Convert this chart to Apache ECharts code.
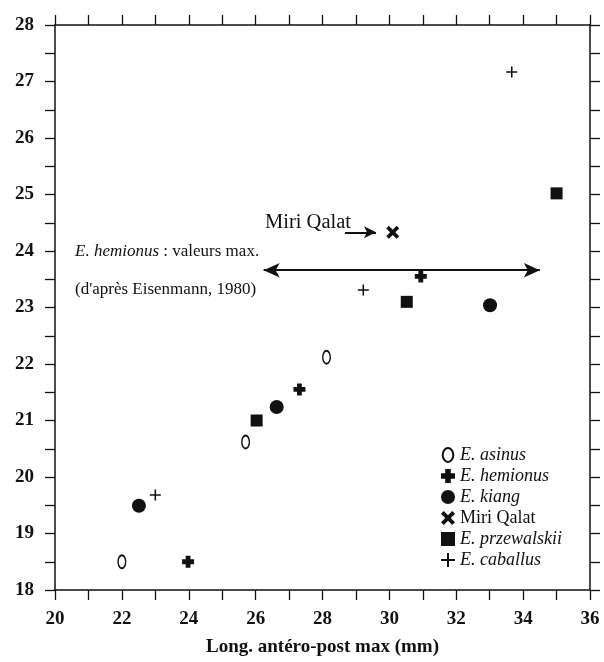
<!DOCTYPE html>
<html>
<head>
<meta charset="utf-8">
<script src="https://cdn.jsdelivr.net/npm/echarts@6/dist/echarts.min.js"></script>
<style>
html,body{margin:0;padding:0;background:#fff}
#chart{width:604px;height:662px}
</style>
</head>
<body>
<div id="chart"></div>
<script>
// valeurs : [long. antéro-post max, hauteur]
var asinus = [[22.0, 18.5], [25.7, 20.62], [28.12, 22.12]];
var hemionus = [[23.98, 18.5], [27.31, 21.55], [30.94, 23.55]];
var kiang = [[22.51, 19.49], [26.63, 21.24], [33.01, 23.04]];
var miriQalat = [[30.1, 24.33]];
var przewalskii = [[26.03, 21.0], [30.52, 23.1], [35.0, 25.02]];
var caballus = [[23.0, 19.68], [29.22, 23.31], [33.66, 27.17]];

// flèches d'annotation
var hemionusMax = [[26.24, 23.66], [34.5, 23.66]];
var miriArrow = [[28.67, 24.33], [29.6, 24.33]];

var xTicks = {min: 20, max: 36, step: 1};
var yTicks = {min: 18, max: 28, step: 0.5};

var serif = 'Liberation Serif';
var ink = '#111';
var chart = echarts.init(document.getElementById('chart'));

var axisLine = {lineStyle: {color: ink, width: 1.5}};
var axisTick = {length: 10, lineStyle: {color: ink, width: 1.3}};

function xAxisCfg(pos, labels) {
    return {
        type: 'value',
        position: pos,
        min: xTicks.min,
        max: xTicks.max,
        interval: xTicks.step,
        splitLine: {show: false},
        axisLine: axisLine,
        axisTick: axisTick,
        axisLabel: {
            show: labels,
            margin: 20,
            fontFamily: serif,
            fontWeight: 'bold',
            fontSize: 19,
            color: ink,
            formatter: function (v) { return v % 2 === 0 ? v : ''; }
        }
    };
}
function yAxisCfg(pos, labels) {
    return {
        type: 'value',
        position: pos,
        min: yTicks.min,
        max: yTicks.max,
        interval: yTicks.step,
        splitLine: {show: false},
        axisLine: axisLine,
        axisTick: axisTick,
        axisLabel: {
            show: labels,
            margin: 21,
            fontFamily: serif,
            fontWeight: 'bold',
            fontSize: 19,
            color: ink,
            formatter: function (v) { return Number.isInteger(v) ? v : ''; }
        }
    };
}

var xBottom = xAxisCfg('bottom', true);
xBottom.name = 'Long. antéro-post max (mm)';
xBottom.nameLocation = 'middle';
xBottom.nameGap = 48;
xBottom.nameTextStyle = {fontFamily: serif, fontWeight: 'bold', fontSize: 19, color: ink};

function dots(name, symbol, size, data, style) {
    return {
        name: name,
        type: 'scatter',
        symbol: symbol,
        symbolSize: size,
        symbolKeepAspect: true,
        itemStyle: style || {color: ink, opacity: 1},
        data: data
    };
}

var option = {
    backgroundColor: '#fff',
    animation: false,
    grid: {left: 55, right: 14, top: 25, bottom: 70},
    xAxis: [xBottom, xAxisCfg('top', false)],
    yAxis: [yAxisCfg('left', true), yAxisCfg('right', false)],
    legend: {
        orient: 'vertical',
        left: 436,
        top: 441,
        itemWidth: 14,
        itemHeight: 14,
        itemGap: 3,
        textStyle: {
            fontFamily: serif,
            fontSize: 18,
            color: ink,
            rich: {
                i: {fontFamily: serif, fontSize: 18, fontStyle: 'italic', color: ink},
                n: {fontFamily: serif, fontSize: 18, color: ink}
            }
        },
        formatter: function (name) {
            return name === 'Miri Qalat' ? '{n|' + name + '}' : '{i|' + name + '}';
        },
        data: ['E. asinus', 'E. hemionus', 'E. kiang', 'Miri Qalat', 'E. przewalskii', 'E. caballus']
    },
    series: [
        dots('E. asinus', 'path://M5,0A5,6.6,0,1,1,5,13.2A5,6.6,0,1,1,5,0Z', [10, 13], asinus,
            {color: '#fff', borderColor: ink, borderWidth: 1.6, opacity: 1}),
        dots('E. hemionus', 'path://M3,0H7V3H10V7H7V10H3V7H0V3H3Z', 12, hemionus),
        dots('E. kiang', 'circle', 14, kiang),
        dots('Miri Qalat', 'path://M0,2L2,0L5,3L8,0L10,2L7,5L10,8L8,10L5,7L2,10L0,8L3,5Z', 13, miriQalat),
        dots('E. przewalskii', 'rect', 12, przewalskii),
        dots('E. caballus', 'path://M4.3,0H5.7V4.3H10V5.7H5.7V10H4.3V5.7H0V4.3H4.3Z', 11, caballus),
        {
            name: 'annotations',
            type: 'line',
            data: [],
            silent: true,
            markLine: {
                silent: true,
                animation: false,
                label: {show: false},
                lineStyle: {color: ink, width: 2, type: 'solid', opacity: 1},
                symbol: ['arrow', 'arrow'],
                symbolSize: [11, 16],
                data: [
                    [{coord: hemionusMax[0]}, {coord: hemionusMax[1]}],
                    [{coord: miriArrow[0], symbol: 'none'}, {coord: miriArrow[1], symbol: 'arrow', symbolSize: [9, 12]}]
                ]
            }
        }
    ],
    graphic: [
        {
            type: 'text', left: 265, top: 212,
            style: {text: 'Miri Qalat', font: '20.5px "Liberation Serif"', fill: ink}
        },
        {
            type: 'text', left: 75, top: 243,
            style: {
                text: '{i|E. hemionus} : valeurs max.',
                font: '17px "Liberation Serif"', fill: ink,
                rich: {i: {fontStyle: 'italic', fontFamily: serif, fontSize: 17}}
            }
        },
        {
            type: 'text', left: 75, top: 281,
            style: {text: "(d'après Eisenmann, 1980)", font: '17px "Liberation Serif"', fill: ink}
        }
    ]
};

chart.setOption(option);
</script>
</body>
</html>
